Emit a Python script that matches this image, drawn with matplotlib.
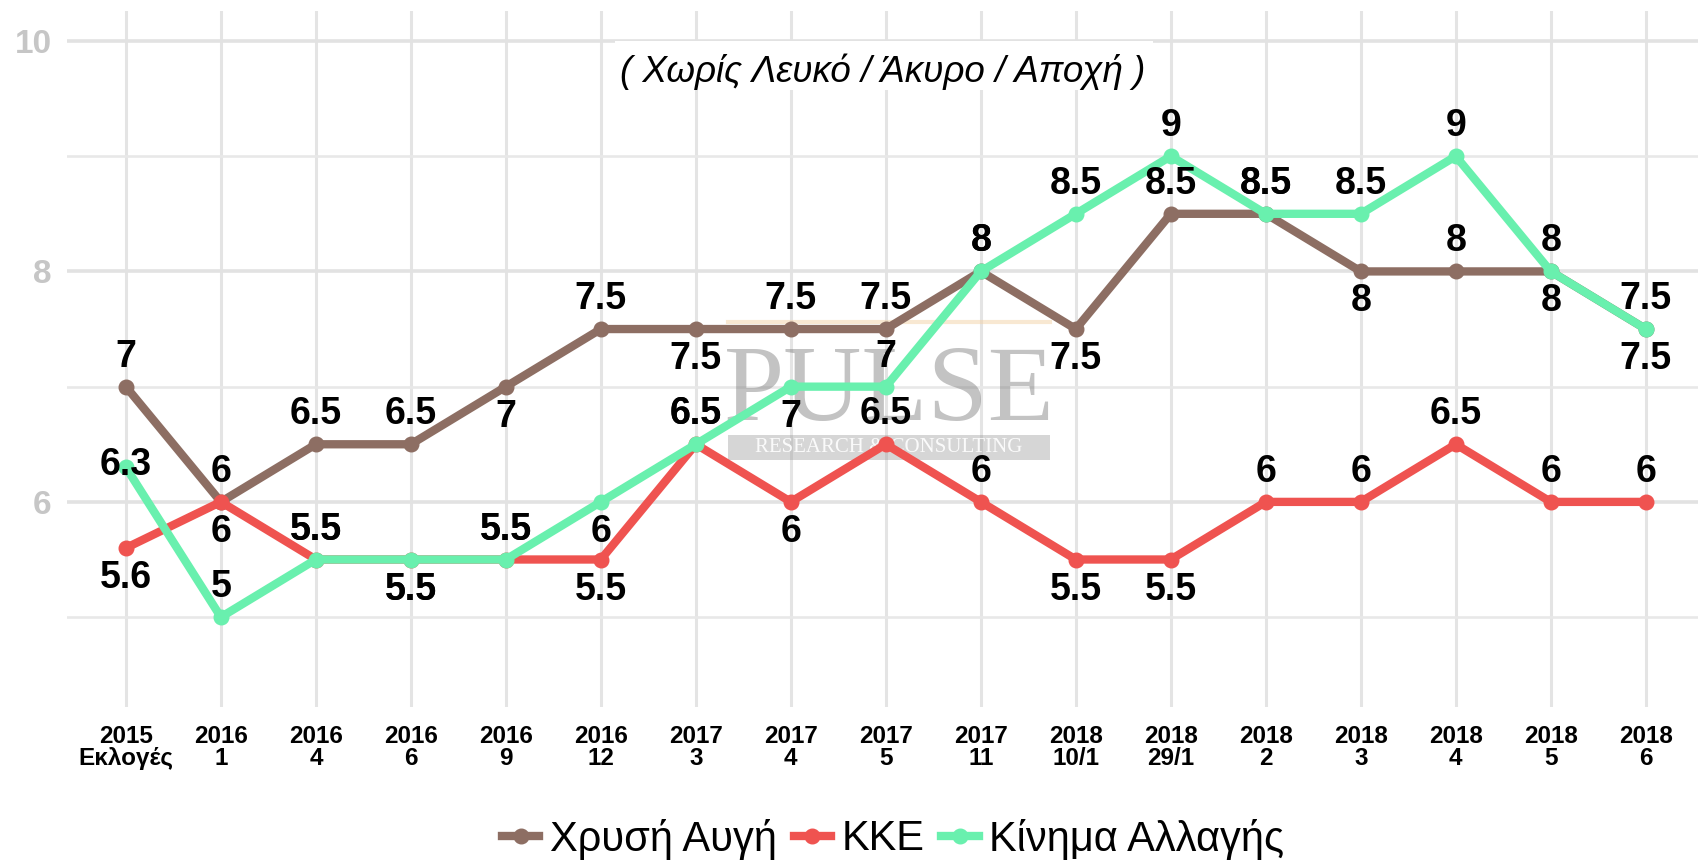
import numpy as np
import matplotlib
matplotlib.use("Agg")
import matplotlib.pyplot as plt
from matplotlib.patches import Rectangle
from matplotlib.lines import Line2D

# ---------------- data ----------------
periods = ["2015\nΕκλογές", "2016\n1", "2016\n4", "2016\n6", "2016\n9", "2016\n12",
           "2017\n3", "2017\n4", "2017\n5", "2017\n11", "2018\n10/1", "2018\n29/1",
           "2018\n2", "2018\n3", "2018\n4", "2018\n5", "2018\n6"]
series_names = ["Χρυσή Αυγή", "ΚΚΕ", "Κίνημα Αλλαγής"]
chrysi_avgi = [7, 6, 6.5, 6.5, 7, 7.5, 7.5, 7.5, 7.5, 8, 7.5, 8.5, 8.5, 8, 8, 8, 7.5]
kke = [5.6, 6, 5.5, 5.5, 5.5, 5.5, 6.5, 6, 6.5, 6, 5.5, 5.5, 6, 6, 6.5, 6, 6]
kinal = [6.3, 5, 5.5, 5.5, 5.5, 6, 6.5, 7, 7, 8, 8.5, 9, 8.5, 8.5, 9, 8, 7.5]
subtitle = "( Χωρίς Λευκό / Άκυρο / Αποχή )"

# ---------------- style ----------------
colors = ["#8D6E63", "#EF5350", "#69F0AE"]
# label placement per point: 1 above, -1 below, 0 on the point
place_ca = [1, 1, 1, 1, -1, 1, -1, 1, 1, 1, -1, 1, 1, -1, 1, -1, -1]
place_kke = [-1, -1, 1, -1, 1, -1, 1, -1, 1, 1, -1, -1, 1, 1, 1, 1, 1]
place_kinal = [0, 1, 1, -1, 1, -1, 1, -1, 1, 1, 1, 1, 1, 1, 1, 1, 1]

W, H = 1698, 861
fig = plt.figure(figsize=(W / 100, H / 100), dpi=100)
ax_l, ax_r, ax_t, ax_b = 67, W, 11, 707
ax = fig.add_axes([ax_l / W, 1 - ax_b / H, (ax_r - ax_l) / W, (ax_b - ax_t) / H])

x = np.arange(len(periods))
ax.set_xlim(-0.62, 16.55)
ax.set_ylim(4.22, 10.26)

ax.set_yticks([6, 8, 10])
ax.set_yticks([5, 7, 9], minor=True)
ax.set_yticklabels(["6", "8", "10"])
ax.set_xticks(x)
ax.set_xticklabels(periods)

ax.grid(axis="y", which="major", color="#e2e2e2", lw=2.6, zorder=0)
ax.grid(axis="y", which="minor", color="#e8e8e8", lw=1.9, zorder=0)
ax.grid(axis="x", which="major", color="#e4e4e4", lw=2.2, zorder=0)
ax.set_axisbelow(True)
for s in ax.spines.values():
    s.set_visible(False)
ax.tick_params(axis="both", which="both", length=0)
ax.tick_params(axis="y", pad=11)
ax.tick_params(axis="x", pad=13)
for t in ax.get_yticklabels():
    t.set_fontsize(24)
    t.set_fontweight("bold")
    t.set_color("#c6c6c6")
    t.set_family("Liberation Sans")
for t in ax.get_xticklabels():
    t.set_fontsize(17.5)
    t.set_fontweight("bold")
    t.set_family("Liberation Sans")
    t.set_linespacing(0.95)

# watermark
ax.plot([0.405, 0.603], [0.553, 0.553], transform=ax.transAxes, color="#f3d2a6",
        lw=3, alpha=0.5, zorder=1)
ax.text(0.504, 0.412, "PULSE", transform=ax.transAxes, fontsize=78,
        family="Liberation Serif", color="#7a7a7a", alpha=0.45, ha="center",
        va="baseline", zorder=1)
ax.add_patch(Rectangle((0.405, 0.355), 0.198, 0.036, transform=ax.transAxes,
                       facecolor="#9a9a9a", alpha=0.4, edgecolor="none", zorder=1))
ax.text(0.504, 0.373, "RESEARCH & CONSULTING", transform=ax.transAxes, fontsize=15,
        family="Liberation Serif", color="white", alpha=0.9, ha="center",
        va="center", zorder=1)

# subtitle with white box
ax.add_patch(Rectangle(((615 - ax_l) / (ax_r - ax_l), (ax_b - 90) / (ax_b - ax_t)),
                       (1153 - 615) / (ax_r - ax_l), (90 - 41) / (ax_b - ax_t),
                       transform=ax.transAxes, facecolor="white", edgecolor="none",
                       zorder=1.5))
ax.text((883 - ax_l) / (ax_r - ax_l), (ax_b - 72) / (ax_b - ax_t), subtitle,
        transform=ax.transAxes, fontsize=26.5, style="italic", family="Liberation Sans",
        ha="center", va="center", zorder=2)

# lines
all_series = [chrysi_avgi, kke, kinal]
placements = [place_ca, place_kke, place_kinal]
handles = []
for k, (vals, col) in enumerate(zip(all_series, colors)):
    ax.plot(x, vals, color=col, lw=6, marker="o", ms=10.5, zorder=3 + k,
            solid_joinstyle="round")
    handles.append(Line2D([], [], color=col, lw=6, marker="o", ms=10.5))


def fmt(v):
    return ("%g" % v)


for vals, pl in zip(all_series, placements):
    for i, v in enumerate(vals):
        off = pl[i] * 21.6 if pl[i] != 0 else 2
        ax.annotate(fmt(v), (x[i], v), xytext=(0, off), textcoords="offset points",
                    ha="center", va="center", fontsize=27, fontweight="bold",
                    family="Liberation Sans", color="black", zorder=10)

fig.legend(handles, series_names, loc="center", ncol=3,
           bbox_to_anchor=(893 / W, 1 - 839 / H), frameon=False,
           prop={"family": "Liberation Sans", "size": 30},
           handlelength=0.9, handletextpad=0.25, columnspacing=0.4)

fig.savefig("out.png", dpi=100, facecolor="white")
